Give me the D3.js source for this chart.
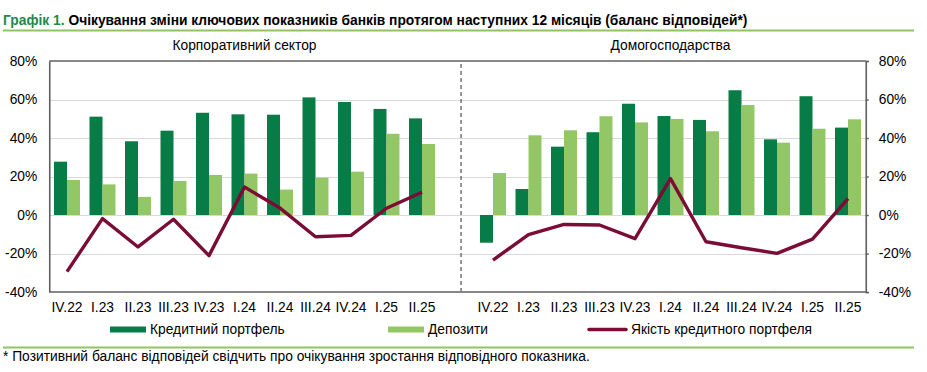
<!DOCTYPE html>
<html><head><meta charset="utf-8">
<script src="https://cdn.jsdelivr.net/npm/d3@7"></script>
<style>
body{margin:0;background:#fff;}
svg text{font-family:"Liberation Sans",Arial,sans-serif;}
</style></head>
<body><svg id="c" width="927" height="372"></svg>
<script>
const quarters = ["IV.22","I.23","II.23","III.23","IV.23","I.24","II.24","III.24","IV.24","I.25","II.25"];
const corpCredit   = [27.7,51.1,38.3,43.8,53.1,52.3,52.1,61.1,58.7,55.1,50.2];
const corpDeposits = [18.2,15.9,9.4,17.7,20.8,21.5,13.2,19.4,22.5,42.2,36.9];
const corpQuality  = [-29.4,-1.9,-16.6,-2.2,-21.1,14.5,3.6,-11.3,-10.6,3.5,11.8];
const hhCredit     = [-14.4,13.5,35.5,43.0,57.8,51.4,49.4,64.8,39.3,61.7,45.4];
const hhDeposits   = [21.8,41.4,44.0,51.3,48.1,49.9,43.5,57.1,37.6,44.8,49.7];
const hhQuality    = [-23.4,-10.2,-4.9,-5.2,-12.3,18.9,-13.9,-17.0,-19.9,-12.5,8.5];
const yTicks = [-40,-20,0,20,40,60,80];
const seriesNames = ["Кредитний портфель","Депозити","Якість кредитного портфеля"];
const panelTitles = ["Корпоративний сектор","Домогосподарства"];
const titleLead = "Графік 1.";
const titleRest = " Очікування зміни ключових показників банків протягом наступних 12 місяців (баланс відповідей*)";
const footnote = "* Позитивний баланс відповідей свідчить про очікування зростання відповідного показника.";

const C_DARK="#077c46", C_LIGHT="#93c765", C_LINE="#7a0c36", C_AX="#5f5f5f", C_GRID="#d9d9d9";
const svg = d3.select("#c");
const font = "13.8px";

// combined categorical domain: left panel, gap, right panel
const keys = quarters.map(q=>"K|"+q).concat(["gap"]).concat(quarters.map(q=>"H|"+q));
const x = d3.scaleBand().domain(keys).range([49.25,865.75]).padding(0);
const bw = x.bandwidth();
const x1 = d3.scaleBand().domain(["credit","deposits"]).range([bw*0.134,bw*0.866]).padding(0);
const y = d3.scaleLinear().domain([-40,80]).range([292,61]);

// title
const t = svg.append("text").attr("x",3).attr("y",25).style("font-size",font).style("font-weight","bold");
t.append("tspan").attr("fill","#1b8a4a").text(titleLead);
t.append("tspan").attr("fill","#000").text(titleRest);
svg.append("line").attr("x1",3).attr("x2",914).attr("y1",30.5).attr("y2",30.5).attr("stroke","#8fc55d").attr("stroke-width",2.2);

// panel titles
const leftMid = (x("K|IV.22")+x("K|II.25")+bw)/2;
const rightMid = (x("H|IV.22")+x("H|II.25")+bw)/2;
svg.append("text").attr("x",leftMid).attr("y",50).attr("text-anchor","middle").style("font-size",font).text(panelTitles[0]);
svg.append("text").attr("x",rightMid).attr("y",50).attr("text-anchor","middle").style("font-size",font).text(panelTitles[1]);

// gridlines
svg.append("g").selectAll("line").data(yTicks.filter(v=>v!==80 && v!==-40)).join("line")
  .attr("x1",49.25).attr("x2",865.75).attr("y1",d=>Math.round(y(d))+0.5).attr("y2",d=>Math.round(y(d))+0.5)
  .attr("stroke",C_GRID).attr("stroke-width",1.2);

// axes
const fmt = d=>d+"%";
const gl = svg.append("g").attr("transform","translate(49.25,0)")
  .call(d3.axisLeft(y).tickValues(yTicks).tickFormat(fmt).tickSize(0).tickPadding(12));
const gr = svg.append("g").attr("transform","translate(865.75,0)")
  .call(d3.axisRight(y).tickValues(yTicks).tickFormat(fmt).tickSize(3).tickPadding(10));
[gl,gr].forEach(g=>{
  g.selectAll("text").style("font-size",font).attr("fill","#000");
  g.select(".domain").attr("stroke",C_AX).attr("stroke-width",1.6);
  g.selectAll(".tick line").attr("stroke",C_AX).attr("stroke-width",1.4);
});
// top and bottom frame
svg.append("line").attr("x1",49.25).attr("x2",865.75).attr("y1",y(80)).attr("y2",y(80)).attr("stroke",C_AX).attr("stroke-width",1.6);
svg.append("line").attr("x1",49.25).attr("x2",865.75).attr("y1",y(-40)).attr("y2",y(-40)).attr("stroke",C_AX).attr("stroke-width",1.6);

// x labels
const gx = svg.append("g").attr("transform",`translate(0,${y(-40)})`)
  .call(d3.axisBottom(x).tickValues(keys.filter(k=>k!=="gap")).tickFormat(k=>k.split("|")[1]).tickSize(0).tickPadding(10));
gx.select(".domain").remove();
gx.selectAll("text").style("font-size",font).attr("fill","#000");

// divider
const divX = x("gap")+bw*0.6;
svg.append("line").attr("x1",divX).attr("x2",divX).attr("y1",y(80)+3).attr("y2",y(-40)-1)
  .attr("stroke",C_AX).attr("stroke-width",1.3).attr("stroke-dasharray","4,3");

// bars
function panel(prefix, credit, deposits, quality){
  const rows = quarters.map((q,i)=>({k:prefix+"|"+q, credit:credit[i], deposits:deposits[i], quality:quality[i]}));
  const g = svg.append("g");
  [["credit",C_DARK],["deposits",C_LIGHT]].forEach(([s,col])=>{
    g.selectAll("rect."+s).data(rows).join("rect").attr("class",s)
      .attr("x",d=>x(d.k)+x1(s)).attr("width",x1.bandwidth())
      .attr("y",d=>y(Math.max(0,d[s]))).attr("height",d=>Math.abs(y(d[s])-y(0)))
      .attr("fill",col);
  });
  const line = d3.line().x(d=>x(d.k)+bw/2).y(d=>y(d.quality));
  svg.append("path").datum(rows).attr("d",line).attr("fill","none").attr("stroke",C_LINE)
    .attr("stroke-width",3.4).attr("stroke-linejoin","round");
}
panel("K",corpCredit,corpDeposits,corpQuality);
panel("H",hhCredit,hhDeposits,hhQuality);

// legend
const lg = svg.append("g");
const legendPos = [110,388,589];
lg.append("rect").attr("x",legendPos[0]).attr("y",326.5).attr("width",36).attr("height",6).attr("fill",C_DARK);
lg.append("text").attr("x",legendPos[0]+40).attr("y",334).style("font-size",font).text(seriesNames[0]);
lg.append("rect").attr("x",legendPos[1]).attr("y",326.5).attr("width",36).attr("height",6).attr("fill",C_LIGHT);
lg.append("text").attr("x",legendPos[1]+40).attr("y",334).style("font-size",font).text(seriesNames[1]);
lg.append("line").attr("x1",legendPos[2]).attr("x2",legendPos[2]+37).attr("y1",329.5).attr("y2",329.5)
  .attr("stroke",C_LINE).attr("stroke-width",3.5).attr("stroke-linecap","round");
lg.append("text").attr("x",legendPos[2]+42).attr("y",334).style("font-size",font).text(seriesNames[2]);

// footnote
svg.append("line").attr("x1",3).attr("x2",914).attr("y1",347.5).attr("y2",347.5).attr("stroke","#8fc55d").attr("stroke-width",2);
svg.append("text").attr("x",3).attr("y",361).style("font-size",font).text(footnote);
</script></body></html>
